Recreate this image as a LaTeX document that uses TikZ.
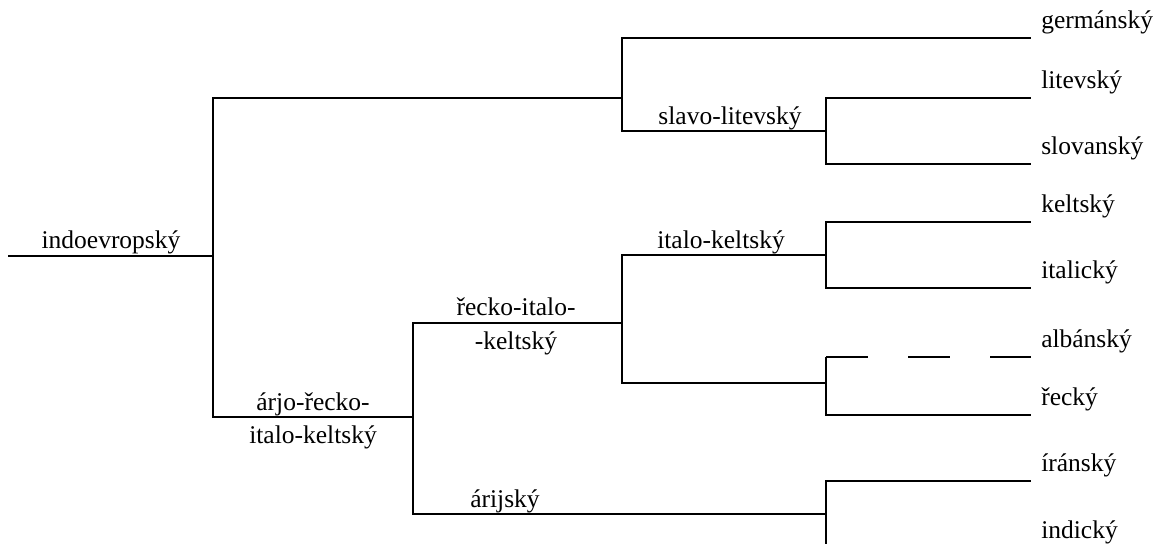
\documentclass[tikz,border=0pt]{standalone}
\usepackage{fontspec}
\setmainfont{Liberation Serif}
\begin{document}
\begin{tikzpicture}[x=1pt,y=-1pt,line width=2.5pt,
  lbl/.style={inner sep=0pt,anchor=base},
  leaf/.style={inner sep=0pt,anchor=base west},
  dashbranch/.style={dash pattern=on 42pt off 40pt},
  font=\fontsize{25.5}{30}\selectfont]
\useasboundingbox (0,0) rectangle (1158,544);
% junctions
\coordinate (root) at (8,256);
\coordinate (j1) at (213,256);
\coordinate (j2) at (622,98);
\coordinate (j3) at (826,131);
\coordinate (j4) at (413,417);
\coordinate (j5) at (622,323);
\coordinate (j6) at (826,255);
\coordinate (j7) at (826,383);
\coordinate (j7t) at (826,357);
\coordinate (j8) at (826,514);
\coordinate (j8b) at (826,544);
% leaf ends
\coordinate (egerm) at (1031,38);
\coordinate (elit) at (1031,98);
\coordinate (eslov) at (1031,164);
\coordinate (ekelt) at (1031,222);
\coordinate (eital) at (1031,288);
\coordinate (ealb) at (1031,357);
\coordinate (erec) at (1031,415);
\coordinate (eiran) at (1031,481);
% connectors
\draw (root) -- (j1);
\draw (j1) |- (j2);
\draw (j1) |- (j4);
\draw (j2) |- (egerm);
\draw (j2) |- (j3);
\draw (j3) |- (elit);
\draw (j3) |- (eslov);
\draw (j4) |- (j5);
\draw (j4) |- (j8);
\draw (j5) |- (j6);
\draw (j5) |- (j7);
\draw (j6) |- (ekelt);
\draw (j6) |- (eital);
\draw (j7) -- (j7t);
\draw[dashbranch] (j7t) -- (ealb);
\draw (j7) |- (erec);
\draw (j8) |- (eiran);
\draw (j8) -- (j8b);
% internal labels
\node[lbl] (lindo) at (111,248) {indoevropský};
\node[lbl] (lslavo) at (730,124) {slavo-litevský};
\node[lbl] (litkel) at (721,248) {italo-keltský};
\node[lbl] (lrecko1) at (516,315) {řecko-italo-};
\node[lbl] (lrecko2) at (516,349) {-keltský};
\node[lbl] (larjo1) at (313,410) {árjo-řecko-};
\node[lbl] (larjo2) at (313,443) {italo-keltský};
\node[lbl] (larij) at (505,507) {árijský};
% leaf labels
\node[leaf] (lgerm) at (1040,28) {germánský};
\node[leaf] (llit) at (1040,88) {litevský};
\node[leaf] (lslov) at (1040,154) {slovanský};
\node[leaf] (lkelt) at (1040,212) {keltský};
\node[leaf] (lital) at (1040,278) {italický};
\node[leaf] (lalb) at (1040,347) {albánský};
\node[leaf] (lrec) at (1040,405) {řecký};
\node[leaf] (liran) at (1040,471) {íránský};
\node[leaf] (lind) at (1040,538) {indický};
\end{tikzpicture}
\end{document}
